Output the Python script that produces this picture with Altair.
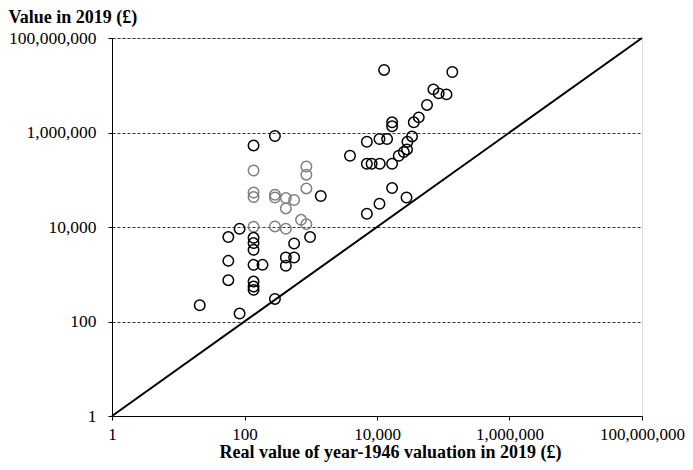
import altair as alt
import pandas as pd

# Black (main) observations
black_x = [21.1, 84.3, 288, 57.0, 137, 137, 137, 57.0, 137, 187, 421, 561, 421, 561, 977, 57.0,
           84.3, 137, 137, 137, 1416, 137, 288,
           12800, 137000, 71000, 85300, 112000, 56900, 42700, 35900, 16900, 16900, 7030, 10900,
           14200, 33800, 28800, 3910, 21300, 25400, 28400, 7030, 8280, 11000, 16900, 16900,
           27900, 10900, 7030]
black_y = [221, 147, 301, 750, 700, 548, 467, 1920, 1580, 1580, 2260, 2260, 1510, 4470, 6110, 6110,
           9160, 5900, 4560, 3290, 45200, 533000, 843000,
           21100000, 19100000, 8180000, 6730000, 6410000, 3830000, 2090000, 1640000, 1640000,
           1350000, 638000, 728000, 728000, 826000, 638000, 322000, 322000, 386000, 439000,
           218000, 218000, 218000, 218000, 66700, 42200, 31000, 19100]

# Grey observations
grey_x = [137, 137, 137, 288, 288, 421, 561, 421, 859, 859, 859, 714, 859, 288, 421, 137]
grey_y = [157000, 53800, 43000, 48100, 42200, 40900, 37200, 24700, 191000, 128000, 65500,
          14200, 11500, 10300, 9160, 10100]

# Equality line
line_x = [1, 100000000]
line_y = [1, 100000000]

tick_values = [1, 100, 10000, 1000000, 100000000]

FONT = "Liberation Serif"

pts = pd.DataFrame(
    {"x": grey_x + black_x,
     "y": grey_y + black_y,
     "group": ["grey"] * len(grey_x) + ["black"] * len(black_x)}
)
line_df = pd.DataFrame({"x": line_x, "y": line_y})

xscale = alt.Scale(type="log", domain=[1, 100000000], nice=False)
yscale = alt.Scale(type="log", domain=[1, 100000000], nice=False)

xaxis = alt.Axis(
    values=tick_values, format=",.0f", grid=False,
    title="Real value of year-1946 valuation in 2019 (£)",
    titleFont=FONT, titleFontSize=18, titleFontWeight="bold", titleColor="black",
    titleBaseline="alphabetic", titleY=41, titleX=278,
    labelFont=FONT, labelFontSize=17, labelColor="black", labelPadding=6,
    domainColor="black", tickColor="black", tickSize=4, labelFlush=False,
)
yaxis = alt.Axis(
    values=tick_values, format=",.0f", grid=True,
    gridColor="#333333", gridDash=[3, 2], gridWidth=1,
    title="Value in 2019 (£)", titleAngle=0, titleAlign="left", titleBaseline="alphabetic",
    titleX=-104, titleY=-16,
    titleFont=FONT, titleFontSize=18, titleFontWeight="bold", titleColor="black",
    labelFont=FONT, labelFontSize=17.5, labelColor="black", labelPadding=12,
    domainColor="black", tickColor="black", tickSize=4,
)

line = alt.Chart(line_df).mark_line(color="black", strokeWidth=2).encode(
    x=alt.X("x:Q", scale=xscale, axis=xaxis),
    y=alt.Y("y:Q", scale=yscale, axis=yaxis),
)

points = alt.Chart(pts).mark_point(shape="circle", filled=False, size=110, strokeWidth=1.5,
                                   opacity=1).encode(
    x=alt.X("x:Q", scale=xscale),
    y=alt.Y("y:Q", scale=yscale),
    color=alt.Color("group:N", scale=alt.Scale(domain=["grey", "black"], range=["#7f7f7f", "#000000"]),
                    legend=None),
)

chart = alt.layer(line, points).properties(
    width=530, height=378,
    autosize=alt.AutoSizeParams(type="none"),
    padding={"left": 104, "top": 30, "right": 43, "bottom": 46},
).configure_view(stroke=None).configure(background="white")

chart.save("out.html", embed_options={"renderer": "svg", "actions": False})
